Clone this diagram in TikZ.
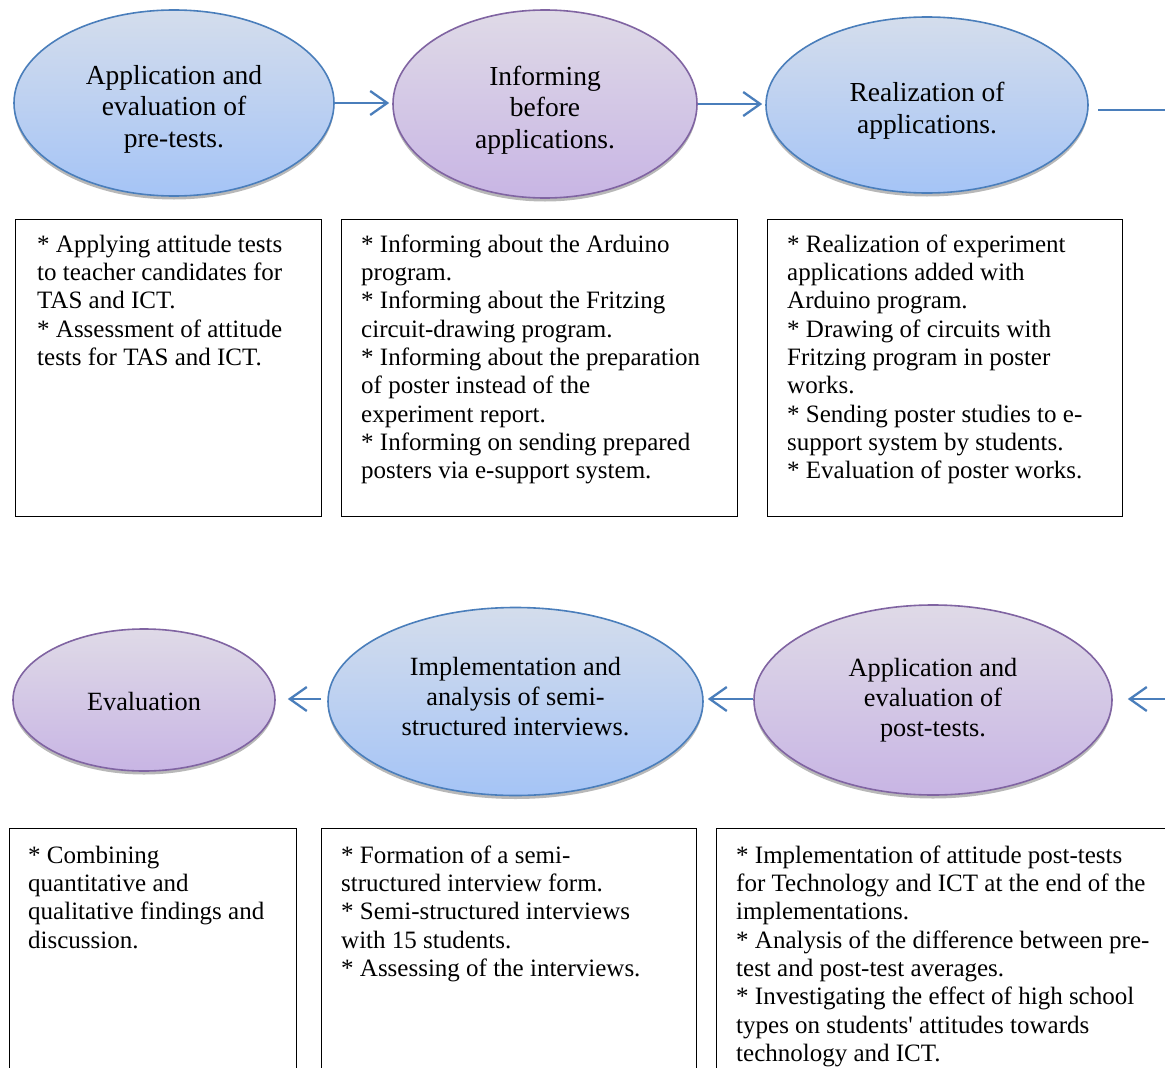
\documentclass[tikz,border=0pt]{standalone}
\usepackage{fontspec}
\setmainfont{Liberation Serif}
\usetikzlibrary{shapes.geometric,arrows.meta,shadows}
\definecolor{bluetop}{RGB}{212,221,236}
\definecolor{bluebot}{RGB}{165,196,246}
\definecolor{blueln}{RGB}{74,126,187}
\definecolor{purtop}{RGB}{223,218,231}
\definecolor{purbot}{RGB}{200,181,228}
\definecolor{purln}{RGB}{128,100,162}
\begin{document}
\begin{tikzpicture}[x=1pt,y=-1pt,
  oval/.style={ellipse, inner sep=0pt, line width=1.6pt,
    drop shadow={shadow xshift=0pt, shadow yshift=-3.5pt, fill=black, opacity=0.28}},
  blueoval/.style={oval, draw=blueln, top color=bluetop, bottom color=bluebot},
  puroval/.style={oval, draw=purln, top color=purtop, bottom color=purbot},
  topfont/.style={inner sep=0pt, align=center, font=\fontsize{27.5}{31.5}\selectfont},
  botfont/.style={inner sep=0pt, align=center, font=\fontsize{26.3}{30}\selectfont},
  box/.style={draw=black, line width=1.2pt, rectangle, inner sep=0pt, anchor=north west},
  boxtext/.style={anchor=north west, inner sep=0pt, align=left, font=\fontsize{25}{28.3}\selectfont},
  arr/.style={draw=blueln, line width=2.3pt, -{Straight Barb[length=17pt,width=24pt,line width=2.3pt]}},
  ln/.style={draw=blueln, line width=2.3pt},
]
\useasboundingbox (0,0) rectangle (1165,1068);
\clip (0,0) rectangle (1165,1068);
\fill[white] (0,0) rectangle (1165,1068);

% top row ellipses
\node[blueoval, minimum width=320pt, minimum height=186pt] (e1) at (174,103) {};
\node[puroval, minimum width=304pt, minimum height=188pt] (e2) at (545,104) {};
\node[blueoval, minimum width=322pt, minimum height=176pt] (e3) at (927,105) {};
\node[topfont] (e1t) at ([yshift=-6pt]e1.center) {Application and\\evaluation of\\pre-tests.};
\node[topfont] (e2t) at ([yshift=-6pt]e2.center) {Informing\\before\\applications.};
\node[topfont] (e3t) at ([yshift=-5.5pt]e3.center) {Realization of\\applications.};

\draw[arr] (e1.east) -- ([xshift=-3pt]e1.east -| e2.west);
\draw[arr] (e2.east) -- ([xshift=-3pt]e2.east -| e3.west);
\coordinate (o1) at (1098,110);
\coordinate (o2) at (1172,110);
\draw[ln] (o1) -- (o2);

% top row boxes
\node[box, minimum width=306pt, minimum height=297pt] (b1) at (15,219) {};
\node[box, minimum width=396pt, minimum height=297pt] (b2) at (341,219) {};
\node[box, minimum width=355pt, minimum height=297pt] (b3) at (767,219) {};

\node[boxtext] (t1) at (37,232.2) {\strut* Applying attitude tests\\
to teacher candidates for\\
TAS and ICT.\\
* Assessment of attitude\\
tests for TAS and ICT.};
\node[boxtext] (t2) at (361,232.2) {\strut* Informing about the Arduino\\
program.\\
* Informing about the Fritzing\\
circuit-drawing program.\\
* Informing about the preparation\\
of poster instead of the\\
experiment report.\\
* Informing on sending prepared\\
posters via e-support system.};
\node[boxtext] (t3) at (787,232.2) {\strut* Realization of experiment\\
applications added with\\
Arduino program.\\
* Drawing of circuits with\\
Fritzing program in poster\\
works.\\
* Sending poster studies to e-\\
support system by students.\\
* Evaluation of poster works.};

% bottom row ellipses
\node[puroval, minimum width=262pt, minimum height=142pt] (ev) at (144,700) {};
\node[blueoval, minimum width=375pt, minimum height=188pt] (im) at (515.5,701.5) {};
\node[puroval, minimum width=358pt, minimum height=190pt] (po) at (933,700) {};
\node[botfont] (evt) at ([yshift=-1pt]ev.center) {Evaluation};
\node[botfont] (imt) at ([yshift=4.5pt]im.center) {Implementation and\\analysis of semi-\\structured interviews.};
\node[botfont] (pot) at (po.center) {Application and\\evaluation of\\post-tests.};

\coordinate (i1) at (1172,699);
\draw[arr] (i1) -- ([xshift=15pt]po.east |- i1);
\draw[arr] (po.west |- i1) -- ([xshift=4pt]im.east |- i1);
\draw[arr] ([xshift=-6pt]im.west |- i1) -- ([xshift=12pt]ev.east |- i1);

% bottom row boxes
\node[box, minimum width=287pt, minimum height=300pt] (b4) at (9,828) {};
\node[box, minimum width=375pt, minimum height=300pt] (b5) at (321,828) {};
\node[box, minimum width=470pt, minimum height=300pt] (b6) at (716,828) {};

\node[boxtext] (t4) at (28,843.2) {\strut* Combining\\
quantitative and\\
qualitative findings and\\
discussion.};
\node[boxtext] (t5) at (341,843.2) {\strut* Formation of a semi-\\
structured interview form.\\
* Semi-structured interviews\\
with 15 students.\\
* Assessing of the interviews.};
\node[boxtext] (t6) at (736,843.2) {\strut* Implementation of attitude post-tests\\
for Technology and ICT at the end of the\\
implementations.\\
* Analysis of the difference between pre-\\
test and post-test averages.\\
* Investigating the effect of high school\\
types on students\textquotesingle{} attitudes towards\\
technology and ICT.};
\end{tikzpicture}
\end{document}
